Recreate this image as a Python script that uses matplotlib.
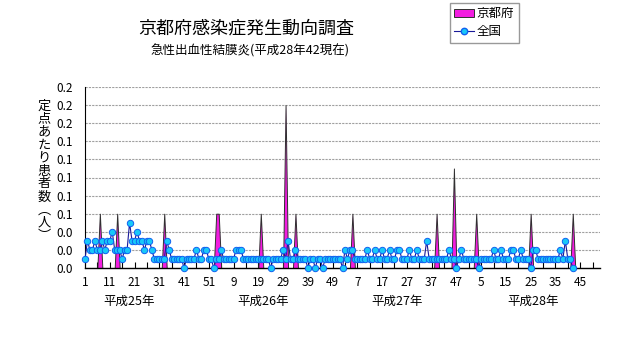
import numpy as np
import matplotlib
matplotlib.use('Agg')
import matplotlib.pyplot as plt
from matplotlib.patches import Patch
from matplotlib.lines import Line2D
from matplotlib.ticker import FixedLocator, FormatStrFormatter

# フォント設定（日本語）
plt.rcParams['font.family'] = ['Noto Sans CJK JP', 'DejaVu Sans']

# ---- データ（定点あたり患者数） ----
# 京都府（平成25年〜平成28年、週ごと）
kyoto_h25 = [0, 0, 0, 0, 0, 0, 0.06, 0, 0, 0, 0, 0, 0, 0.06, 0, 0, 0, 0, 0, 0,
             0, 0, 0, 0, 0, 0, 0, 0, 0, 0, 0, 0, 0.06, 0, 0, 0, 0, 0, 0, 0,
             0, 0, 0, 0, 0, 0, 0, 0, 0, 0, 0, 0]
kyoto_h26 = [0, 0.06, 0.06, 0, 0, 0, 0, 0, 0, 0, 0, 0, 0, 0, 0, 0, 0, 0, 0, 0.06,
             0, 0, 0, 0, 0, 0, 0, 0, 0, 0.18, 0, 0, 0, 0.06, 0, 0, 0, 0, 0, 0,
             0, 0, 0, 0, 0, 0, 0, 0, 0, 0, 0, 0]
kyoto_h27 = [0, 0, 0, 0, 0.06, 0, 0, 0, 0, 0, 0, 0, 0, 0, 0, 0, 0, 0, 0, 0,
             0, 0, 0, 0, 0, 0, 0, 0, 0, 0, 0, 0, 0, 0, 0, 0, 0, 0, 0.06, 0,
             0, 0, 0, 0, 0, 0.11, 0, 0, 0, 0, 0, 0]
kyoto_h28 = [0, 0, 0.06, 0, 0, 0, 0, 0, 0, 0, 0, 0, 0, 0, 0, 0, 0, 0, 0, 0,
             0, 0, 0, 0, 0.06, 0, 0, 0, 0, 0, 0, 0, 0, 0, 0, 0, 0, 0, 0, 0,
             0, 0.06, 0, 0, 0, 0, 0, 0, 0, 0, 0, 0]

# 全国
zenkoku_h25 = [0.01, 0.03, 0.02, 0.02, 0.03, 0.02, 0.02, 0.03, 0.02, 0.03,
               0.03, 0.04, 0.02, 0.02, 0.02, 0.01, 0.02, 0.02, 0.05, 0.03,
               0.03, 0.04, 0.03, 0.03, 0.02, 0.03, 0.03, 0.02, 0.01, 0.01,
               0.01, 0.01, 0.01, 0.03, 0.02, 0.01, 0.01, 0.01, 0.01, 0.01,
               0.00, 0.01, 0.01, 0.01, 0.01, 0.02, 0.01, 0.01, 0.02, 0.02,
               0.01, 0.01]
zenkoku_h26 = [0.00, 0.01, 0.01, 0.02, 0.01, 0.01, 0.01, 0.01, 0.01, 0.02,
               0.02, 0.02, 0.01, 0.01, 0.01, 0.01, 0.01, 0.01, 0.01, 0.01,
               0.01, 0.01, 0.01, 0.00, 0.01, 0.01, 0.01, 0.01, 0.02, 0.01,
               0.03, 0.01, 0.01, 0.02, 0.01, 0.01, 0.01, 0.01, 0.00, 0.01,
               0.01, 0.00, 0.01, 0.01, 0.00, 0.01, 0.01, 0.01, 0.01, 0.01,
               0.01, 0.01]
zenkoku_h27 = [0.00, 0.02, 0.01, 0.02, 0.02, 0.01, 0.01, 0.01, 0.01, 0.01,
               0.02, 0.01, 0.01, 0.02, 0.01, 0.01, 0.02, 0.01, 0.01, 0.02,
               0.01, 0.01, 0.02, 0.02, 0.01, 0.01, 0.01, 0.02, 0.01, 0.01,
               0.02, 0.01, 0.01, 0.01, 0.03, 0.01, 0.01, 0.01, 0.01, 0.01,
               0.01, 0.01, 0.01, 0.02, 0.01, 0.01, 0.00, 0.01, 0.02, 0.01,
               0.01, 0.01]
zenkoku_h28 = [0.01, 0.01, 0.01, 0.00, 0.01, 0.01, 0.01, 0.01, 0.01, 0.02,
               0.01, 0.01, 0.02, 0.01, 0.01, 0.01, 0.02, 0.02, 0.01, 0.01,
               0.02, 0.01, 0.01, 0.01, 0.00, 0.02, 0.02, 0.01, 0.01, 0.01,
               0.01, 0.01, 0.01, 0.01, 0.01, 0.01, 0.02, 0.01, 0.03, 0.01,
               0.01, 0.00]

year_names = ['平成25年', '平成26年', '平成27年', '平成28年']
week_tick_labels = ['1', '11', '21', '31', '41', '51', '9', '19', '29', '39', '49',
                    '7', '17', '27', '37', '47', '5', '15', '25', '35', '45']
n_weeks = 52 * 4

kyoto = np.array(kyoto_h25 + kyoto_h26 + kyoto_h27 + kyoto_h28)
zenkoku = np.array(zenkoku_h25 + zenkoku_h26 + zenkoku_h27 + zenkoku_h28)
x_all = np.arange(n_weeks)
x_z = np.arange(len(zenkoku))

kyoto_color = '#F21DE0'
line_color = '#1A1A99'

# ---- グラフ作成 ----
fig = plt.figure(figsize=(6.31, 3.47), dpi=100)
ax = fig.add_axes([85 / 631, 79 / 347, 515 / 631, 181 / 347])

# 京都府（面グラフ）
ax.fill_between(x_all, 0, kyoto, facecolor=kyoto_color, edgecolor='#303030',
                linewidth=0.7, zorder=2)
# 全国（折れ線）
ax.plot(x_z, zenkoku, color=line_color, linewidth=0.8, marker='o',
        markersize=4.6, markerfacecolor='#18C8F8', markeredgecolor='#1060F0',
        markeredgewidth=0.7, zorder=3, clip_on=False)

ax.set_xlim(0, n_weeks)
ax.set_ylim(0, 0.2)

# 目盛り
ax.yaxis.set_major_locator(FixedLocator(np.linspace(0, 0.2, 11)))
ax.yaxis.set_major_formatter(FormatStrFormatter('%.1f'))
ax.tick_params(axis='y', length=0, pad=9, labelsize=8.5)
xt = np.arange(0, n_weeks, 5)
ax.set_xticks(xt)
labels = []
for i in xt:
    labels.append(week_tick_labels[i // 10] if i % 10 == 0 else '')
ax.set_xticklabels(labels)
ax.tick_params(axis='x', direction='in', length=4, width=0.8, pad=6, labelsize=8.5)

ax.grid(axis='y', color='#A0A0A0', linestyle=(0, (2, 1)), linewidth=0.8)
ax.set_axisbelow(True)
for s in ['top', 'right']:
    ax.spines[s].set_visible(False)
ax.spines['left'].set_linewidth(0.8)
ax.spines['bottom'].set_linewidth(1.0)

# 年のラベル
year_pos = [18, 72, 126, 181]
for xp, name in zip(year_pos, year_names):
    ax.text(xp, -0.037, name, ha='center', va='center', fontsize=9)

# 縦書きの軸ラベル
ylab = '定点あたり患者数︵人︶'
fig.text(44 / 631, 1 - 171 / 347, '\n'.join(ylab), ha='center', va='center',
         fontsize=9.5, linespacing=1.0)

# タイトル
fig.text(246 / 631, 1 - 28 / 347, '京都府感染症発生動向調査', ha='center',
         va='center', fontsize=13)
fig.text(250 / 631, 1 - 51 / 347, '急性出血性結膜炎(平成28年42現在)',
         ha='center', va='center', fontsize=9)

# 凡例
handles = [Patch(facecolor=kyoto_color, edgecolor='#303030', linewidth=0.7),
           Line2D([], [], color=line_color, linewidth=0.8, marker='o',
                  markersize=4.6, markerfacecolor='#18C8F8',
                  markeredgecolor='#1060F0')]
fig.legend(handles, ['京都府', '全国'], loc='upper left',
           bbox_to_anchor=(450 / 631, 1 - 3 / 347), fontsize=9,
           frameon=True, fancybox=False, edgecolor='#808080',
           handlelength=1.6, handleheight=0.5, handletextpad=0.2,
           borderpad=0.35, labelspacing=0.4, borderaxespad=0)

fig.savefig('out.png', dpi=100)
